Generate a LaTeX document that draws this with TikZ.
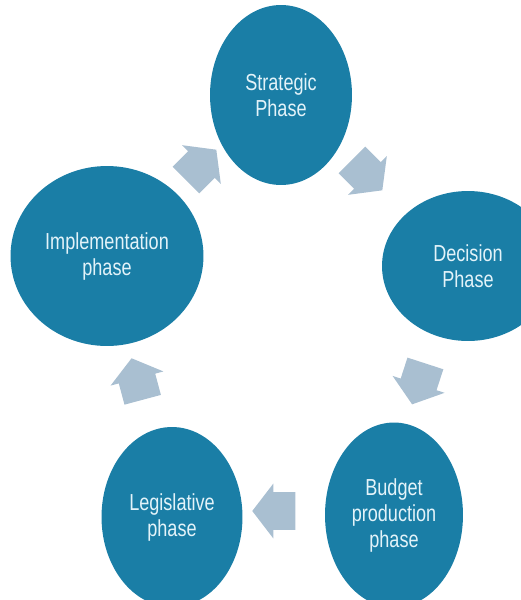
\documentclass[tikz,border=0pt]{standalone}
\usepackage{fontspec}
\setmainfont{Liberation Sans}
\newfontfamily\phasefont[FakeStretch=0.78]{Liberation Sans}
\usetikzlibrary{shapes.geometric,shapes.arrows}
\definecolor{phaseblue}{HTML}{1A7EA6}
\definecolor{phasetext}{HTML}{E3F3F9}
\definecolor{flowgrey}{HTML}{A9BFD1}
\tikzset{
  phase/.style={ellipse,fill=phaseblue,text=phasetext,align=center,inner sep=0pt,
    font=\phasefont\fontsize{13.2}{14.8}\selectfont},
  flowarrow/.style={single arrow,fill=flowgrey,inner xsep=0pt,inner ysep=0.37cm,
    minimum height=0.86cm,single arrow head extend=0.17cm,single arrow tip angle=105}
}

\begin{document}
\begin{tikzpicture}[x=0.02cm,y=-0.02cm]
    \useasboundingbox (0,0) rectangle (521,600);
    \clip (0,0) rectangle (521,600);
    %
    % -- The five phases of the cycle
    \node [phase, minimum width=2.84cm, minimum height=3.6cm] (strat)  at (281,95)  {Strategic\\Phase};
    \node [phase, minimum width=3.44cm, minimum height=3.0cm] (dec)    at (468,266) {Decision\\Phase};
    \node [phase, minimum width=2.76cm, minimum height=3.7cm] (budget) at (394,515) {Budget\\production\\phase};
    \node [phase, minimum width=2.82cm, minimum height=3.6cm] (legis)  at (172,517) {Legislative\\phase};
    \node [phase, minimum width=3.86cm, minimum height=3.6cm] (impl)   at (107,256) {Implementation\\phase};

    % -- Block arrows between the phases
    \node [flowarrow, rotate=45]   (implstrat)   at (196,170) {};
    \node [flowarrow, rotate=-45]  (stratdec)    at (362,170) {};
    \node [flowarrow, rotate=-108] (decbudget)   at (421,377) {};
    \node [flowarrow, rotate=180]  (budgetlegis) at (281,511) {};
    \node [flowarrow, rotate=105]  (legisimpl)   at (139,386) {};
\end{tikzpicture}
\end{document}
